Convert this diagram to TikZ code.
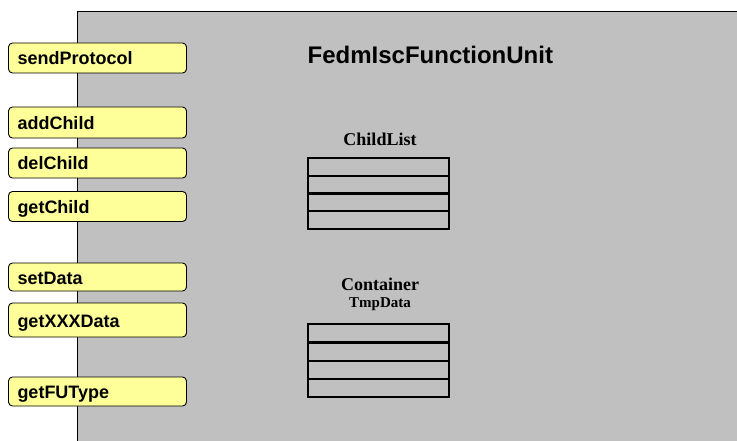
\documentclass[tikz,border=0pt]{standalone}
\usepackage{fontspec}
\setmainfont{Liberation Sans}
\newfontfamily\titleserif{Liberation Serif}
\definecolor{unitgray}{HTML}{C0C0C0}
\definecolor{methodyellow}{HTML}{FFFF99}
\tikzset{
  method/.style={draw=black, line width=0.9pt, fill=methodyellow, rounded corners=4pt,
    minimum width=178pt, text width=160pt, inner xsep=9pt, inner ysep=0pt, align=left,
    text height=14pt, text depth=0pt,
    font=\fontsize{18pt}{20pt}\selectfont\bfseries},
  cell/.style={draw=black, line width=2pt, minimum width=141.6pt, minimum height=18pt,
    inner sep=0pt},
  listtitle/.style={font=\titleserif\fontsize{18pt}{20pt}\selectfont\bfseries, anchor=base, inner sep=0pt},
}
\begin{document}
\begin{tikzpicture}[x=1pt, y=-1pt]
  \useasboundingbox (0,0) rectangle (737,441);
  % function unit body
  \path[fill=unitgray] (77.3,11) rectangle (745,450);
  \draw[line width=0.9pt] (77.3,450) -- (77.3,11) -- (745,11);
  \node[font=\fontsize{24pt}{26pt}\selectfont\bfseries, anchor=base west, inner sep=0pt]
    (title) at (307.5,63.5) {FedmIscFunctionUnit};

  % interface methods
  \node[method, minimum height=30pt] (sendProtocol) at (97.5,58)    {sendProtocol};
  \node[method, minimum height=31pt] (addChild)     at (97.5,122.5) {addChild};
  \node[method, minimum height=30pt] (delChild)     at (97.5,163)   {delChild};
  \node[method, minimum height=30pt] (getChild)     at (97.5,206.5) {getChild};
  \node[method, minimum height=28pt] (setData)      at (97.5,277)   {setData};
  \node[method, minimum height=34pt] (getXXXData)   at (97.5,320)   {getXXXData};
  \node[method, minimum height=29pt] (getFUType)    at (97.5,391.5) {getFUType};

  % child list
  \node[listtitle] (childlist) at (380,146) {ChildList};
  \foreach \i/\y in {1/166.8, 2/184.7, 3/202.2, 4/220.2}
    \node[cell] (cl\i) at (378.5,\y) {};

  % temporary data container
  \node[listtitle] (container) at (380,290.5) {Container};
  \node[font=\titleserif\fontsize{15pt}{17pt}\selectfont\bfseries, anchor=base, inner sep=0pt]
    (tmpdata) at (380,307.5) {TmpData};
  \foreach \i/\y in {1/333.3, 2/351.5, 3/369.5, 4/387.5}
    \node[cell] (td\i) at (378.5,\y) {};
\end{tikzpicture}
\end{document}
